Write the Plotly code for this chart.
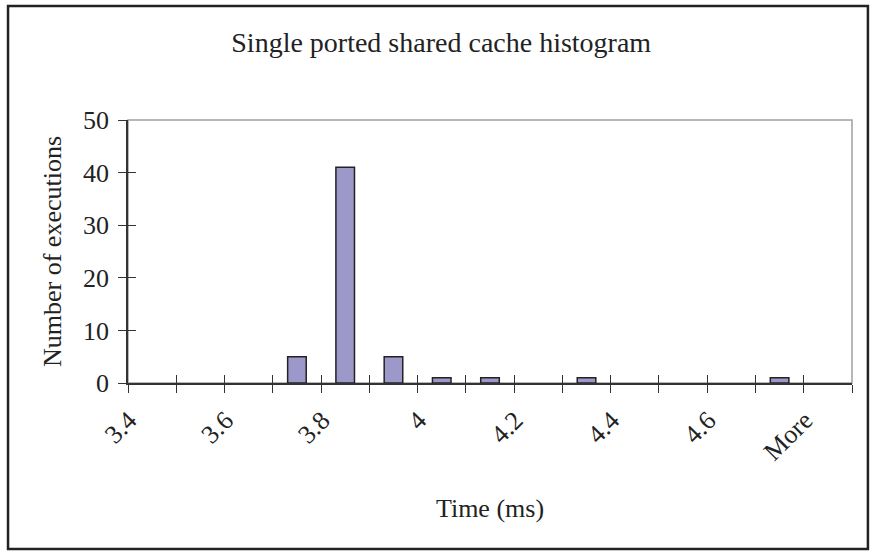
import plotly.graph_objects as go

# ---- data ----
categories = ["3.4", "3.5", "3.6", "3.7", "3.8", "3.9", "4", "4.1", "4.2",
              "4.3", "4.4", "4.5", "4.6", "4.7", "More"]
counts = [0, 0, 0, 5, 41, 5, 1, 1, 0, 1, 0, 0, 0, 1, 0]
tick_labels = ["3.4", "", "3.6", "", "3.8", "", "4", "", "4.2",
               "", "4.4", "", "4.6", "", "More"]
y_ticks = [0, 10, 20, 30, 40, 50]

title_text = "Single ported shared cache histogram"
x_title = "Time (ms)"
y_title = "Number of executions"

FONT = "Liberation Serif"
TXT = "#222222"
AX = "#333333"
n = len(categories)
idx = list(range(n))

fig = go.Figure()
fig.add_trace(go.Bar(
    x=categories, y=counts, width=0.385,
    marker=dict(color="#9C98C9",
                line=dict(color="#222222",
                          width=[1.5 if c > 0 else 0 for c in counts])),
    showlegend=False, hoverinfo="x+y",
))
# transparent copy on the overlay axes so their inside ticks are drawn
fig.add_trace(go.Bar(
    x=idx, y=counts, width=0.385, xaxis="x2", yaxis="y2",
    marker=dict(color="rgba(0,0,0,0)", line=dict(width=0)),
    showlegend=False, hoverinfo="skip",
))

fig.update_layout(
    width=872, height=551,
    margin=dict(l=128, r=20, t=120, b=168),
    paper_bgcolor="white", plot_bgcolor="white",
    font=dict(family=FONT, size=26, color=TXT),
    title=dict(text=title_text, x=0.506, xref="container", xanchor="center",
               y=0.924, yref="container", yanchor="middle",
               font=dict(family=FONT, size=28, color=TXT)),
    xaxis=dict(
        type="category", categoryorder="array", categoryarray=categories,
        range=[-0.5, n - 0.5],
        tickmode="array", tickvals=categories, ticktext=tick_labels,
        tickson="boundaries", ticks="outside", ticklen=8, tickwidth=1.2,
        tickcolor=AX, tickangle=-45, showline=True, linecolor=AX,
        linewidth=1.5, showgrid=False, zeroline=False,
        ticklabelshift=-23, ticklabelstandoff=10,
        tickfont=dict(family=FONT, size=26, color=TXT),
        title=dict(text=x_title, standoff=34,
                   font=dict(family=FONT, size=26, color=TXT)),
    ),
    xaxis2=dict(
        overlaying="x", type="linear", range=[-0.5, n - 0.5],
        tickmode="array", tickvals=[i - 0.5 for i in range(n + 1)],
        ticks="inside", ticklen=8, tickwidth=1.2, tickcolor=AX,
        showticklabels=False, showline=False, showgrid=False,
        zeroline=False, side="bottom", anchor="y2",
    ),
    yaxis=dict(
        range=[0, 50], tickmode="array", tickvals=y_ticks,
        ticks="outside", ticklen=8, tickwidth=1.2, tickcolor=AX,
        showline=True, linecolor=AX, linewidth=1.5, showgrid=False,
        zeroline=False, ticklabelstandoff=4,
        tickfont=dict(family=FONT, size=26, color=TXT),
        title=dict(text=y_title, standoff=14,
                   font=dict(family=FONT, size=26, color=TXT)),
    ),
    yaxis2=dict(
        overlaying="y", range=[0, 50], tickmode="array", tickvals=y_ticks,
        ticks="inside", ticklen=8, tickwidth=1.2, tickcolor=AX,
        showticklabels=False, showline=False, showgrid=False,
        zeroline=False, side="left", anchor="x2",
    ),
    shapes=[
        dict(type="rect", xref="paper", yref="paper", x0=0, x1=1, y0=0, y1=1,
             line=dict(color="#A0A0A0", width=1.5), layer="below"),
        dict(type="rect", xref="paper", yref="paper",
             x0=-0.1657, x1=1.022, y0=-0.631, y1=1.4335,
             line=dict(color="#222222", width=2.5), layer="below"),
    ],
)

fig.write_html("out.html")
